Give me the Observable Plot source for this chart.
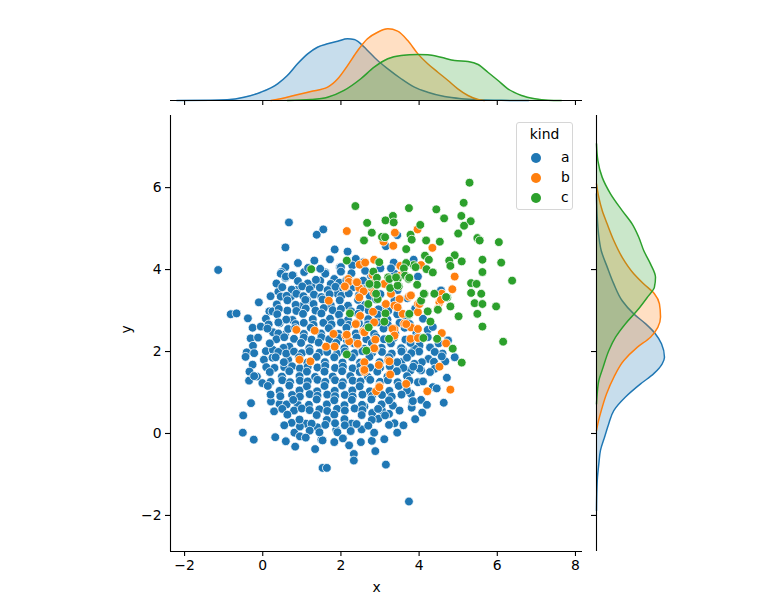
<!DOCTYPE html>
<html><head><meta charset="utf-8">
<script src="https://cdn.jsdelivr.net/npm/d3@7"></script>
<script src="https://cdn.jsdelivr.net/npm/@observablehq/plot@0.6"></script>
<style>
body{margin:0;background:#fff;font-family:"DejaVu Sans",sans-serif;}
#fig{position:relative;width:778px;height:599px;overflow:hidden;}
#fig svg{position:absolute;left:0;top:0;}
.legend{position:absolute;left:516px;top:122px;width:55px;height:86px;border:1px solid #d6d6d6;border-radius:3px;background:rgba(255,255,255,0.8);font-size:13.9px;color:#000;}
.legend .title{position:absolute;left:0;width:100%;top:3px;text-align:center;}
.legend .row{position:absolute;left:0;width:100%;height:16px;}
.legend .dot{position:absolute;left:14px;top:3px;width:10px;height:10px;border-radius:50%;}
.legend .lab{position:absolute;left:44px;top:-1px;}
</style></head><body><div id="fig"></div>
<script>
const kinds = ["a", "b", "c"];
const colors = ["#1f77b4", "#ff7f0e", "#2ca02c"];
const xTicks = [-2, 0, 2, 4, 6, 8];
const yTicks = [-2, 0, 2, 4, 6];
const xLabel = "x";
const yLabel = "y";
const legendTitle = "kind";

// kind a (blue) points [x, y]
const pointsA = [
[0.67,5.15],[1.55,4.98],[1.38,4.85],[0.58,4.54],[1.84,4.49],[2.17,4.44],[3.15,4.57],[3.44,4.84],[-1.14,3.99],[0.58,4.06],[0.48,3.94],[1.06,3.94],[1.16,4.04],[1.6,3.93],[1.97,4.06],[0.78,3.86],[0.58,3.8],[1.83,3.77],
[2.38,4.26],[2.29,4.1],[2.0,4.06],[2.0,3.95],[2.58,4.18],[3.37,3.9],[2.77,3.85],[3.97,3.83],[3.35,4.17],[3.28,4.03],[3.01,4.03],[3.86,4.24],[4.56,3.49],
[-0.82,2.91],[-0.67,2.93],[-0.1,3.2],[-0.38,2.81],[-0.26,2.58],[-0.05,2.61],[-0.31,2.32],[-0.12,2.34],[-0.25,2.14],[-0.41,1.98],[-0.22,1.96],[0.08,2.01],[-0.44,1.87],[-0.26,1.68],[0.03,1.8],[-0.34,1.51],[-0.15,1.39],[0.17,2.98],[0.25,2.98],[0.4,3.46],[0.46,3.34],[0.72,3.34],[0.87,3.5],[0.26,2.47],[0.43,2.69],[0.26,2.04],[0.25,1.85],[0.09,1.62],[0.55,1.62],[0.65,1.8],[0.68,2.12],[0.57,2.41],[0.65,2.55],[0.63,3.0],[0.76,2.77],[0.97,3.1],[1.13,3.26],[0.46,3.9],[0.59,3.83],[0.76,3.86],[1.25,3.61],[1.47,3.73],[1.6,3.9],[1.74,3.65],[1.91,3.41],
[-0.35,1.29],[-0.3,0.74],[-0.5,0.44],[-0.51,0.02],[-0.23,-0.15],[0.32,-0.09],[0.59,-0.19],[0.83,-0.32],[1.34,-0.38],[1.53,-0.84],[1.64,-0.84],[1.5,-0.15],[1.83,-0.21],[0.74,0.26],[0.81,0.02],[0.95,-0.07],[0.29,0.54],[0.21,0.78],[-0.01,1.23],[-0.22,1.4],[0.43,0.72],[0.61,0.71],[0.89,0.72],[1.1,0.24],[0.95,0.17],[1.4,0.15],[1.88,0.09],[1.91,0.03],[1.53,-0.17],
[4.71,1.36],[4.63,0.75],[4.08,0.51],[3.81,0.63],[3.82,0.78],[4.05,0.82],[3.33,0.68],[3.23,0.48],[3.37,0.25],[3.44,0.02],[3.11,-0.14],[2.79,-0.18],[2.51,-0.21],[2.88,-0.43],[2.33,-0.5],[2.33,-0.66],[2.21,-0.29],[3.15,-0.76],[3.74,-1.66],[2.53,0.1],[2.27,0.24],[2.96,0.36],[3.23,0.21],[3.05,0.56],[2.8,0.5],[2.6,0.66],[3.79,0.97],
[4.67,1.76],[4.91,1.86],[4.24,1.82],[4.07,1.74],[4.01,2.15],[4.22,2.53],[4.35,1.13],[3.84,0.79],[3.97,1.25],[3.68,1.23],[3.78,1.54],[4.05,1.54],[3.88,1.7],[3.54,1.74],[3.45,1.54],[4.01,1.58],[4.22,2.35],[3.88,2.07],[3.58,2.04],[4.74,2.27],
[0.9,4.16],[1.32,4.22],[1.47,4.02],[2.27,3.91],[2.62,3.97],[1.72,4.25],[0.35,3.66],[0.2,3.35],[3.2,3.65],[3.45,3.5],[3.7,3.3],[3.9,3.05],[4.1,2.8],[4.35,2.6],[4.5,2.2],[4.0,2.0],[4.6,1.95],[4.45,1.1],[4.2,0.7],[3.9,0.35],[3.6,0.2],
[0.9,3.72],[1.15,3.66],[1.36,3.75],[1.96,3.68],[2.14,3.74],[2.42,3.66],[2.57,3.73],
[0.5,3.57],[0.74,3.51],[1.01,3.59],[1.2,3.52],[1.46,3.56],[1.66,3.5],[1.86,3.58],[2.06,3.53],[2.31,3.57],[2.62,3.52],
[0.61,3.36],[0.86,3.41],[1.04,3.35],[1.31,3.39],[1.5,3.33],[1.71,3.4],[2.01,3.36],[2.2,3.42],[2.46,3.37],[2.74,3.35],[3.01,3.4],
[0.36,3.15],[0.63,3.25],[0.84,3.14],[1.09,3.26],[1.3,3.16],[1.53,3.27],[1.74,3.13],[1.97,3.25],[2.18,3.12],[2.44,3.26],[2.62,3.14],[2.9,3.27],[3.13,3.13],[3.37,3.24],
[0.41,3.04],[0.86,2.99],[1.1,3.05],[1.35,3.0],[1.56,3.06],[1.79,3.01],[2.0,3.04],[2.26,2.98],[2.5,3.05],[2.71,3.0],[2.96,3.03],[3.21,2.99],[3.46,3.04],
[0.08,2.8],[0.37,2.91],[0.6,2.78],[1.03,2.92],[1.28,2.79],[1.5,2.93],[1.72,2.8],[1.95,2.9],[2.18,2.77],[2.44,2.92],[2.7,2.79],[2.94,2.9],[3.19,2.78],[3.44,2.91],[3.68,2.8],
[0.15,2.66],[0.4,2.71],[0.84,2.67],[1.05,2.7],[1.3,2.65],[1.55,2.7],[1.76,2.66],[2.0,2.71],[2.2,2.65],[2.46,2.69],[2.69,2.66],[2.95,2.71],[3.2,2.65],[3.5,2.7],[3.76,2.67],
[0.12,2.56],[0.4,2.44],[0.83,2.57],[1.05,2.43],[1.23,2.58],[1.49,2.44],[1.69,2.57],[1.94,2.43],[2.14,2.58],[2.38,2.44],[2.64,2.57],[2.85,2.43],[3.09,2.56],[3.39,2.44],[3.63,2.58],[3.93,2.45],
[0.35,2.3],[0.55,2.35],[0.8,2.31],[1.05,2.34],[1.25,2.29],[1.5,2.35],[1.7,2.3],[1.95,2.33],[2.15,2.28],[2.4,2.34],[2.65,2.3],[2.9,2.35],[3.1,2.3],[3.35,2.33],[3.65,2.29],[3.95,2.35],
[0.18,2.2],[0.53,2.09],[0.98,2.21],[1.19,2.08],[1.43,2.22],[1.64,2.09],[1.88,2.21],[2.09,2.08],[2.33,2.2],[2.59,2.07],[2.79,2.21],[3.04,2.09],[3.28,2.2],[3.54,2.08],[3.78,2.21],[4.28,2.1],
[0.4,1.99],[0.6,1.95],[0.8,2.0],[1.0,1.96],[1.2,2.01],[1.45,1.97],[1.65,1.99],[1.9,1.95],[2.1,2.0],[2.35,1.96],[2.55,2.01],[2.8,1.97],[3.05,1.99],[3.3,1.95],[3.55,2.0],[3.8,1.96],[4.4,1.99],
[0.33,1.86],[0.54,1.74],[0.93,1.86],[1.14,1.73],[1.38,1.87],[1.59,1.74],[1.83,1.86],[2.04,1.73],[2.28,1.86],[2.49,1.73],[2.73,1.87],[2.99,1.74],[3.23,1.86],[3.44,1.74],[3.69,1.85],[4.38,1.75],[4.58,1.88],
[0.3,1.6],[0.75,1.64],[0.95,1.59],[1.15,1.63],[1.4,1.61],[1.6,1.65],[1.85,1.6],[2.05,1.63],[2.3,1.59],[2.5,1.64],[2.75,1.61],[3.0,1.6],[3.25,1.64],[3.6,1.6],[3.85,1.63],[4.4,1.58],
[0.18,1.5],[0.49,1.39],[0.68,1.52],[0.94,1.4],[1.13,1.51],[1.34,1.38],[1.58,1.51],[1.79,1.39],[2.03,1.52],[2.24,1.4],[2.48,1.5],[2.69,1.38],[2.93,1.51],[3.19,1.39],[3.43,1.52],[3.69,1.4],[4.28,1.5],
[0.2,1.26],[0.5,1.3],[0.7,1.25],[0.95,1.29],[1.15,1.27],[1.4,1.31],[1.6,1.26],[1.85,1.3],[2.05,1.25],[2.3,1.29],[2.5,1.27],[2.75,1.31],[3.0,1.26],[3.2,1.3],[3.45,1.25],[3.75,1.29],[4.1,1.27],
[0.13,1.16],[0.43,1.04],[0.68,1.17],[0.94,1.05],[1.13,1.15],[1.39,1.03],[1.58,1.16],[1.84,1.04],[2.03,1.17],[2.29,1.05],[2.48,1.15],[2.74,1.03],[2.98,1.16],[3.24,1.04],[3.48,1.16],[3.69,1.05],
[0.2,0.95],[0.45,0.91],[0.75,0.94],[0.95,0.9],[1.2,0.96],[1.4,0.92],[1.65,0.95],[1.85,0.91],[2.1,0.94],[2.3,0.9],[2.55,0.95],[2.8,0.92],[3.05,0.94],[3.3,0.9],[3.55,0.95],
[0.78,0.82],[1.18,0.7],[1.38,0.83],[1.64,0.71],[1.83,0.81],[2.09,0.69],[2.28,0.82],[2.54,0.7],[2.78,0.83],[3.04,0.71],[3.23,0.81],
[0.5,0.6],[0.8,0.56],[1.0,0.61],[1.2,0.57],[1.45,0.59],[1.65,0.55],[1.9,0.6],[2.1,0.56],[2.35,0.61],[2.55,0.57],[2.95,0.6],[3.5,0.56],
[0.63,0.46],[0.94,0.34],[1.38,0.45],[1.64,0.33],[1.83,0.46],[2.09,0.35],[2.53,0.45],[2.79,0.33],[3.13,0.44],
[0.55,0.2],[1.25,0.24],[1.6,0.21],[1.85,0.25],[2.1,0.2],[2.4,0.23],[2.7,0.19],
[1.2,0.07],[1.45,0.03],[2.25,0.06],[2.85,0.02],[1.1,-0.1],[2.05,-0.12]
];

// kind b (orange) points [x, y]
const pointsB = [
[2.15,4.94],[3.38,4.9],[3.09,4.68],[3.34,4.58],[3.96,4.98],[4.34,4.53],[4.91,3.83],[4.05,4.11],[3.52,4.09],[2.85,4.24],[2.48,4.12],[2.62,4.17],[3.52,3.85],[2.19,3.77],
[2.2,3.7],[2.11,3.57],[2.39,3.7],[2.47,3.55],[2.58,3.47],[2.77,3.57],[2.85,3.42],[2.47,3.32],[2.82,2.97],[2.49,2.87],[2.39,2.69],[2.85,2.71],[1.69,3.24],[0.86,2.53],[1.33,2.51],[1.81,2.43],[2.12,2.39],[2.21,2.25],[2.43,2.17],[2.57,2.49],[1.62,2.12],[1.84,2.12],[2.88,2.29],[2.87,2.07],[0.94,1.8],[1.22,1.76],[2.58,1.56],[2.97,1.67],[2.99,1.15],[2.9,1.03],[3.21,1.78],
[4.85,3.52],[4.58,3.41],[4.52,3.2],[4.48,3.04],[3.97,3.16],[3.97,2.96],[3.74,3.34],[3.5,3.28],[3.28,3.41],[3.15,3.16],[3.37,3.12],[3.58,2.92],[3.62,2.68],[3.79,2.59],[3.97,2.55],[3.37,2.55],[4.58,2.45],[4.69,2.2],[3.78,2.31],[3.97,2.33],[3.26,1.44],[4.52,1.63],[4.8,1.07],[4.21,1.03],[2.98,1.13],[2.81,3.87],[3.62,3.87],
[2.6,1.51],[3.67,1.21],[2.1,3.59],[2.41,3.69],[2.15,2.41],[2.38,2.67],[2.6,2.47],[2.6,1.74],[3.24,1.76],[2.6,1.55],[2.85,2.08],[2.43,2.19],[3.79,3.37],[3.45,3.08],[3.32,2.55],[3.37,2.39],[4.01,3.16],[3.67,2.67],[2.84,3.67],[3.11,3.65],[4.56,3.26]
];

// kind c (green) points [x, y]
const pointsC = [
[5.29,6.12],[5.14,5.63],[2.37,5.55],[3.74,5.5],[4.44,5.47],[3.33,5.31],[3.14,5.2],[3.35,5.15],[4.64,5.25],[5.08,5.31],[5.32,5.18],[5.15,5.07],[5.0,4.88],[4.03,5.09],[2.67,5.14],[2.79,4.9],[2.59,4.71],[3.05,4.8],[3.13,4.79],[3.78,4.85],[3.81,4.73],[3.67,4.5],[4.18,4.71],[4.53,4.68],[5.49,4.77],[5.55,4.71],[6.04,4.67],[4.91,4.35],[4.77,4.22],[5.09,4.2],[4.8,4.09],[5.62,4.24],[6.1,4.17],[5.62,3.94],[4.15,4.34],[4.25,4.24],[4.19,4.01],[4.35,3.93],[3.86,4.11],[3.67,4.16],[3.91,4.06],[3.61,4.03],[2.98,4.18],[2.83,3.95],[3.21,3.81],[3.64,3.85],
[1.24,4.01],[2.15,4.22],[2.92,3.8],[2.74,3.63],[2.92,3.63],[2.7,3.16],[2.94,3.28],[2.23,2.93],[3.14,2.93],[3.11,2.73],[2.71,2.59],[2.65,2.02],[2.15,1.93],[3.23,2.31],
[3.24,3.77],[3.45,3.77],[3.73,3.77],[3.26,3.55],[3.48,3.59],[3.95,3.63],[4.14,3.41],[4.39,3.41],[4.05,3.24],[4.72,3.32],[4.8,3.1],[5.33,3.67],[5.47,3.65],[5.33,3.43],[5.59,3.41],[5.42,3.18],[5.62,3.16],[5.97,3.1],[5.49,2.92],[5.01,2.86],[5.62,2.61],[6.15,2.24],[3.74,2.9],[4.22,2.98],[4.48,3.02],[4.29,2.73],[4.11,2.33],[4.46,2.31],[4.86,2.07],[5.09,1.73],[6.38,3.73],
[2.73,3.65],[2.9,3.41],[3.45,3.61],[3.41,3.81],[3.75,3.8],[4.12,3.41],[4.69,3.33],[3.75,2.92]
];

// marginal densities: [value, density]
const kdeXA = [[-2.2,0],[-1.33,0.001],[-0.91,0.005],[-0.48,0.024],[-0.05,0.061],[0.38,0.123],[0.63,0.184],[0.89,0.27],[1.15,0.343],[1.4,0.392],[1.66,0.417],[1.92,0.436],[2.17,0.454],[2.34,0.449],[2.51,0.417],[2.68,0.368],[2.94,0.294],[3.2,0.233],[3.54,0.16],[3.88,0.098],[4.22,0.061],[4.65,0.029],[5.08,0.013],[5.51,0.005],[6.1,0.001],[6.8,0]];
const kdeXB = [[0.21,0],[0.46,0.013],[0.8,0.037],[1.23,0.066],[1.66,0.098],[1.92,0.16],[2.17,0.257],[2.43,0.368],[2.68,0.454],[2.94,0.502],[3.2,0.527],[3.45,0.51],[3.71,0.441],[3.97,0.343],[4.22,0.27],[4.48,0.208],[4.74,0.147],[4.99,0.086],[5.25,0.037],[5.51,0.007],[5.67,0]];
const kdeXC = [[0.63,0],[1.23,0.007],[1.66,0.024],[2.08,0.074],[2.51,0.16],[2.85,0.245],[3.2,0.307],[3.54,0.331],[3.97,0.338],[4.22,0.336],[4.56,0.318],[4.91,0.294],[5.25,0.287],[5.51,0.265],[5.76,0.208],[6.02,0.147],[6.27,0.086],[6.62,0.037],[6.96,0.013],[7.3,0.002],[7.64,0]];
const kdeYA = [[5.85,0],[5.3,0.005],[4.87,0.015],[4.46,0.035],[4.06,0.079],[3.65,0.127],[3.24,0.189],[2.92,0.274],[2.68,0.36],[2.43,0.434],[2.19,0.478],[1.86,0.5],[1.7,0.483],[1.46,0.421],[1.21,0.324],[0.89,0.213],[0.56,0.127],[0.24,0.09],[-0.09,0.059],[-0.41,0.029],[-0.74,0.017],[-1.07,0.007],[-1.47,0.002],[-1.88,0]];
const kdeYB = [[6.09,0],[5.76,0.017],[5.44,0.042],[5.11,0.079],[4.71,0.127],[4.3,0.189],[3.9,0.274],[3.65,0.348],[3.41,0.426],[3.16,0.463],[2.84,0.471],[2.59,0.451],[2.35,0.397],[2.1,0.299],[1.78,0.201],[1.37,0.127],[0.97,0.074],[0.56,0.035],[0.24,0.01],[0.07,0]];
const kdeYC = [[7.07,0],[6.66,0.01],[6.25,0.042],[5.85,0.103],[5.44,0.189],[5.11,0.263],[4.79,0.311],[4.46,0.348],[4.14,0.397],[3.81,0.434],[3.57,0.426],[3.32,0.373],[3.0,0.299],[2.68,0.213],[2.35,0.14],[2.02,0.09],[1.62,0.049],[1.29,0.017],[0.97,0.005],[0.72,0]];

const pointSets = [pointsA, pointsB, pointsC];
const kdeX = [kdeXA, kdeXB, kdeXC];
const kdeY = [kdeYA, kdeYB, kdeYC];

const points = kinds.flatMap((k, i) => pointSets[i].map(([x, y]) => ({x, y, kind: k})));

const xDomain = [-2.36, 8.18];
const yDomain = [-2.88, 7.76];
const dDomain = [0, 0.64];
const fmt = d => d < 0 ? "\u2212" + Math.abs(d) : String(d);
const font = {background: "transparent", fontFamily: "DejaVu Sans, sans-serif", fontSize: "13.9px", color: "black", overflow: "visible"};

const fig = document.getElementById("fig");

const main = Plot.plot({
  width: 778, height: 599,
  marginLeft: 170, marginRight: 196, marginTop: 115, marginBottom: 48,
  style: font,
  x: {domain: xDomain},
  y: {domain: yDomain},
  color: {domain: kinds, range: colors},
  marks: [
    Plot.dot(points, {x: "x", y: "y", fill: "kind", stroke: "white", strokeWidth: 0.8, r: 4.4}),
    Plot.ruleX([xDomain[0]], {stroke: "black", strokeWidth: 1.1}),
    Plot.ruleY([yDomain[0]], {stroke: "black", strokeWidth: 1.1}),
    Plot.axisX({ticks: xTicks, tickSize: 5, tickPadding: 4, tickFormat: fmt, label: null, strokeWidth: 1.1}),
    Plot.axisY({ticks: yTicks, tickSize: 5, tickPadding: 4, tickFormat: fmt, label: null, strokeWidth: 1.1}),
    Plot.text([xLabel], {text: d => d, frameAnchor: "bottom", dy: 40, fontSize: 13.9}),
    Plot.text([yLabel], {text: d => d, frameAnchor: "left", dx: -44, rotate: -90, fontSize: 13.9})
  ]
});
fig.appendChild(main);

const topMarks = [];
kinds.forEach((k, i) => {
  topMarks.push(Plot.areaY(kdeX[i], {x: d => d[0], y: d => d[1], fill: colors[i], fillOpacity: 0.25, curve: "monotone-x"}));
  topMarks.push(Plot.lineY(kdeX[i], {x: d => d[0], y: d => d[1], stroke: colors[i], strokeWidth: 1.5, curve: "monotone-x"}));
});
const topPlot = Plot.plot({
  width: 778, height: 110,
  marginLeft: 170, marginRight: 196, marginTop: 13, marginBottom: 10,
  style: font,
  x: {domain: xDomain, axis: null},
  y: {domain: dDomain, axis: null},
  marks: [
    ...topMarks,
    Plot.ruleY([0], {stroke: "black", strokeWidth: 1.1}),
    Plot.axisX({ticks: xTicks, tickSize: 5, tickFormat: () => "", label: null, strokeWidth: 1.1})
  ]
});
fig.appendChild(topPlot);

const rightMarks = [];
kinds.forEach((k, i) => {
  rightMarks.push(Plot.areaX(kdeY[i], {y: d => d[0], x: d => d[1], fill: colors[i], fillOpacity: 0.25, curve: "monotone-y"}));
  rightMarks.push(Plot.lineX(kdeY[i], {y: d => d[0], x: d => d[1], stroke: colors[i], strokeWidth: 1.5, curve: "monotone-y"}));
});
const rightPlot = Plot.plot({
  width: 778, height: 599,
  marginLeft: 596, marginRight: 95, marginTop: 115, marginBottom: 48,
  style: font,
  x: {domain: dDomain, axis: null},
  y: {domain: yDomain, axis: null},
  marks: [
    ...rightMarks,
    Plot.ruleX([0], {stroke: "black", strokeWidth: 1.1}),
    Plot.axisY({ticks: yTicks, anchor: "left", tickSize: 5, tickFormat: () => "", label: null, strokeWidth: 1.1})
  ]
});
fig.appendChild(rightPlot);

// legend
const leg = document.createElement("div");
leg.className = "legend";
const t = document.createElement("div");
t.className = "title";
t.textContent = legendTitle;
leg.appendChild(t);
kinds.forEach((k, i) => {
  const row = document.createElement("div");
  row.className = "row";
  row.style.top = (27 + i * 20) + "px";
  const dot = document.createElement("div");
  dot.className = "dot";
  dot.style.background = colors[i];
  const lab = document.createElement("div");
  lab.className = "lab";
  lab.textContent = k;
  row.appendChild(dot);
  row.appendChild(lab);
  leg.appendChild(row);
});
fig.appendChild(leg);
</script>
</body></html>
